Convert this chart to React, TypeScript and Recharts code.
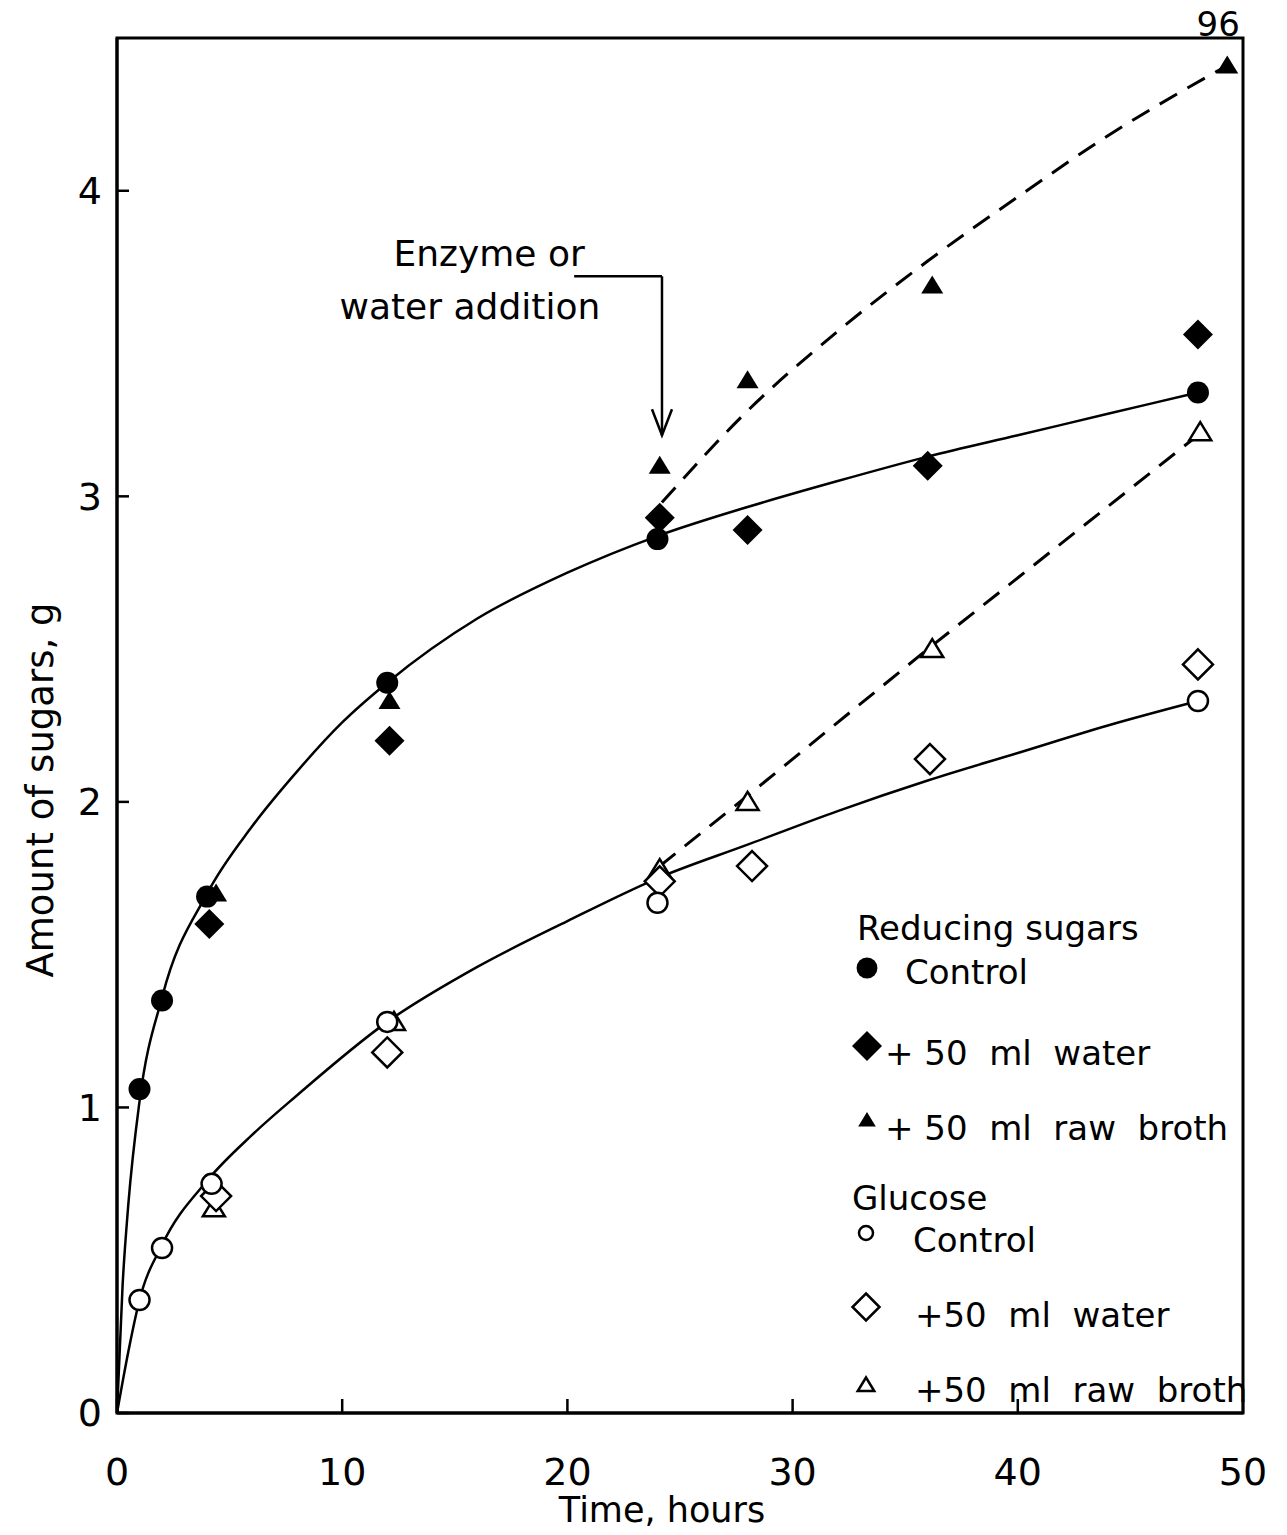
import { ComposedChart, Line, Scatter, XAxis, YAxis, ReferenceArea, ReferenceLine, ReferenceDot, Label } from 'recharts';

// axis ticks
const xTicks = [0, 10, 20, 30, 40, 50];
const yTicks = [0, 1, 2, 3, 4];

// Reducing sugars, measured (hours, g)
const rsControlHours = [1, 2, 4, 12, 24, 48];
const rsControl = [1.06, 1.35, 1.69, 2.39, 2.86, 3.34];
const rsWaterHours = [4.1, 12.1, 24.1, 28, 36, 48];
const rsWater = [1.6, 2.2, 2.93, 2.89, 3.1, 3.53];
// last broth point is the 96 h value, drawn at the right edge
const rsBrothHours = [4.4, 12.1, 24.1, 28, 36.2, 49.3];
const rsBroth = [1.7, 2.33, 3.1, 3.38, 3.69, 4.41];

// Glucose, measured
const glControlHours = [1, 2, 4.2, 12, 24, 48];
const glControl = [0.37, 0.54, 0.75, 1.28, 1.67, 2.33];
const glWaterHours = [4.4, 12, 24.1, 28.2, 36.1, 48];
const glWater = [0.71, 1.18, 1.74, 1.79, 2.14, 2.45];
const glBrothHours = [4.3, 12.3, 24.1, 28, 36.2, 48.1];
const glBroth = [0.67, 1.28, 1.78, 2.0, 2.5, 3.21];

// fitted curves
const rsCurveHours = [0, 0.25, 0.5, 1, 2, 4, 6, 8, 10, 12, 16, 20, 24, 28, 32, 36, 40, 44, 48];
const rsCurve = [0, 0.42, 0.68, 1.02, 1.36, 1.7, 1.92, 2.1, 2.26, 2.39, 2.6, 2.75, 2.87, 2.965, 3.05, 3.13, 3.2, 3.27, 3.34];
const glCurveHours = [0, 0.5, 1, 2, 4, 6, 8, 12, 16, 20, 24, 28, 32, 36, 40, 44, 48];
const glCurve = [0, 0.2, 0.37, 0.55, 0.76, 0.91, 1.04, 1.28, 1.46, 1.61, 1.75, 1.86, 1.97, 2.07, 2.16, 2.25, 2.33];
const rsBrothCurveHours = [24.2, 28, 32, 36, 40, 44, 49.3];
const rsBrothCurve = [2.98, 3.28, 3.54, 3.77, 3.98, 4.18, 4.41];
const glBrothCurveHours = [24.1, 28, 36, 48];
const glBrothCurve = [1.79, 2.02, 2.5, 3.2];

const toPoints = (xs: number[], ys: number[]) => xs.map((x, i) => ({ x, y: ys[i] }));

const FONT = '"DejaVu Sans", sans-serif';

function Marker({ cx, cy, kind, filled, scale = 1 }: { cx: number; cy: number; kind: string; filled: boolean; scale?: number }) {
  const fill = filled ? '#000' : '#fff';
  const stroke = '#000';
  const sw = filled ? 0 : 2.5;
  if (kind === 'circle') {
    return <circle cx={cx} cy={cy} r={(filled ? 11 : 10) * scale} fill={fill} stroke={stroke} strokeWidth={sw} />;
  }
  if (kind === 'diamond') {
    const h = 15 * scale;
    return <polygon points={`${cx},${cy - h} ${cx + h},${cy} ${cx},${cy + h} ${cx - h},${cy}`} fill={fill} stroke={stroke} strokeWidth={sw} strokeLinejoin="miter" />;
  }
  const w = 11 * scale;
  return <polygon points={`${cx},${cy - 10 * scale} ${cx + w},${cy + 8 * scale} ${cx - w},${cy + 8 * scale}`} fill={fill} stroke={stroke} strokeWidth={sw} />;
}

const shapeOf = (kind: string, filled: boolean) => (p: any) => <Marker cx={p.cx} cy={p.cy} kind={kind} filled={filled} />;

function LegendIcon({ kind, filled, scale }: { kind: string; filled: boolean; scale: number }) {
  return (
    <svg width={36} height={36} style={{ position: 'absolute', left: -18, top: -18, overflow: 'visible' }}>
      <Marker cx={18} cy={18} kind={kind} filled={filled} scale={scale} />
    </svg>
  );
}

const legendRows = [
  { top: 928, left: 857, text: 'Reducing sugars' },
  { top: 972, left: 905, text: 'Control', icon: 'circle', filled: true, iconX: 867, iconY: 968, scale: 0.95 },
  { top: 1053, left: 885, text: '+ 50  ml  water', icon: 'diamond', filled: true, iconX: 867, iconY: 1046, scale: 1 },
  { top: 1128, left: 885, text: '+ 50  ml  raw  broth', icon: 'triangle', filled: true, iconX: 867, iconY: 1120, scale: 0.8 },
  { top: 1198, left: 852, text: 'Glucose' },
  { top: 1240, left: 913, text: 'Control', icon: 'circle', filled: false, iconX: 866, iconY: 1233, scale: 0.7 },
  { top: 1315, left: 915, text: '+50  ml  water', icon: 'diamond', filled: false, iconX: 866, iconY: 1307, scale: 0.9 },
  { top: 1390, left: 915, text: '+50  ml  raw  broth', icon: 'triangle', filled: false, iconX: 866, iconY: 1385, scale: 0.75 },
];

export default function App() {
  return (
    <div style={{ position: 'relative', width: 1287, height: 1535, background: '#fff', fontFamily: FONT }}>
      <style>{`body{margin:0}`}</style>
      <ComposedChart width={1287} height={1535} margin={{ top: 38, right: 44, bottom: 42, left: 0 }}>
        <XAxis
          type="number"
          dataKey="x"
          domain={[0, 50]}
          ticks={xTicks}
          height={80}
          axisLine={{ stroke: '#000', strokeWidth: 3 }}
          tickLine={{ stroke: '#000', strokeWidth: 2.5 }}
          tickSize={-14}
          tickMargin={59}
          tick={{ fill: '#000', fontSize: 38 }}
          allowDataOverflow
        >
          <Label content={() => <text x={662} y={1522} textAnchor="middle" fontSize={35} fill="#000">Time, hours</text>} />
        </XAxis>
        <YAxis
          type="number"
          dataKey="y"
          domain={[0, 4.5]}
          ticks={yTicks}
          width={117}
          axisLine={{ stroke: '#000', strokeWidth: 3 }}
          tickLine={{ stroke: '#000', strokeWidth: 2.5 }}
          tickSize={-12}
          tickMargin={27}
          tick={{ fill: '#000', fontSize: 38 }}
          allowDataOverflow
        >
          <Label content={() => <text x={40} y={790} transform="rotate(-90, 40, 790)" textAnchor="middle" dominantBaseline="central" fontSize={37} fill="#000">Amount of sugars, g</text>} />
        </YAxis>

        <ReferenceArea x1={0} x2={50} y1={0} y2={4.5} fill="none" stroke="#000" strokeWidth={3} ifOverflow="visible" />

        <Line data={toPoints(rsCurveHours, rsCurve)} dataKey="y" type="monotone" stroke="#000" strokeWidth={2.5} dot={false} isAnimationActive={false} />
        <Line data={toPoints(glCurveHours, glCurve)} dataKey="y" type="monotone" stroke="#000" strokeWidth={2.5} dot={false} isAnimationActive={false} />
        <Line data={toPoints(rsBrothCurveHours, rsBrothCurve)} dataKey="y" type="monotone" stroke="#000" strokeWidth={3} strokeDasharray="20 12" dot={false} isAnimationActive={false} />
        <Line data={toPoints(glBrothCurveHours, glBrothCurve)} dataKey="y" type="linear" stroke="#000" strokeWidth={3} strokeDasharray="20 12" dot={false} isAnimationActive={false} />

        <Scatter data={toPoints(rsBrothHours, rsBroth)} shape={shapeOf('triangle', true)} isAnimationActive={false} />
        <Scatter data={toPoints(rsWaterHours, rsWater)} shape={shapeOf('diamond', true)} isAnimationActive={false} />
        <Scatter data={toPoints(rsControlHours, rsControl)} shape={shapeOf('circle', true)} isAnimationActive={false} />
        <Scatter data={toPoints(glBrothHours, glBroth)} shape={shapeOf('triangle', false)} isAnimationActive={false} />
        <Scatter data={toPoints(glWaterHours, glWater)} shape={shapeOf('diamond', false)} isAnimationActive={false} />
        <Scatter data={toPoints(glControlHours, glControl)} shape={shapeOf('circle', false)} isAnimationActive={false} />

        {/* enzyme / water addition arrow */}
        <ReferenceLine segment={[{ x: 20.3, y: 3.72 }, { x: 24.2, y: 3.72 }]} stroke="#000" strokeWidth={2.5} ifOverflow="visible" />
        <ReferenceLine segment={[{ x: 24.2, y: 3.72 }, { x: 24.2, y: 3.2 }]} stroke="#000" strokeWidth={2.5} ifOverflow="visible" />
        <ReferenceDot x={24.2} y={3.2} ifOverflow="visible" shape={(p: any) => (
          <path d={`M${p.cx - 10},${p.cy - 26} L${p.cx},${p.cy} L${p.cx + 10},${p.cy - 26}`} fill="none" stroke="#000" strokeWidth={2.5} />
        )} />
        <ReferenceDot x={12.28} y={3.754} ifOverflow="visible" shape={(p: any) => (
          <text x={p.cx} y={p.cy} fontSize={36} fill="#000" textAnchor="start">Enzyme or</text>
        )} />
        <ReferenceDot x={9.88} y={3.58} ifOverflow="visible" shape={(p: any) => (
          <text x={p.cx} y={p.cy} fontSize={36} fill="#000" textAnchor="start">water addition</text>
        )} />
        <ReferenceDot x={48.9} y={4.49} ifOverflow="visible" shape={(p: any) => (
          <text x={p.cx} y={p.cy - 5} fontSize={34} fill="#000" textAnchor="middle">96</text>
        )} />
      </ComposedChart>

      {legendRows.map((r, i) => (
        <div key={i}>
          {r.icon && (
            <div style={{ position: 'absolute', left: r.iconX, top: r.iconY, width: 0, height: 0 }}>
              <LegendIcon kind={r.icon} filled={r.filled as boolean} scale={r.scale as number} />
            </div>
          )}
          <div style={{ position: 'absolute', left: r.left, top: r.top, transform: 'translateY(-50%)', fontSize: 34, lineHeight: 1, whiteSpace: 'pre', color: '#000' }}>
            {r.text}
          </div>
        </div>
      ))}
    </div>
  );
}
